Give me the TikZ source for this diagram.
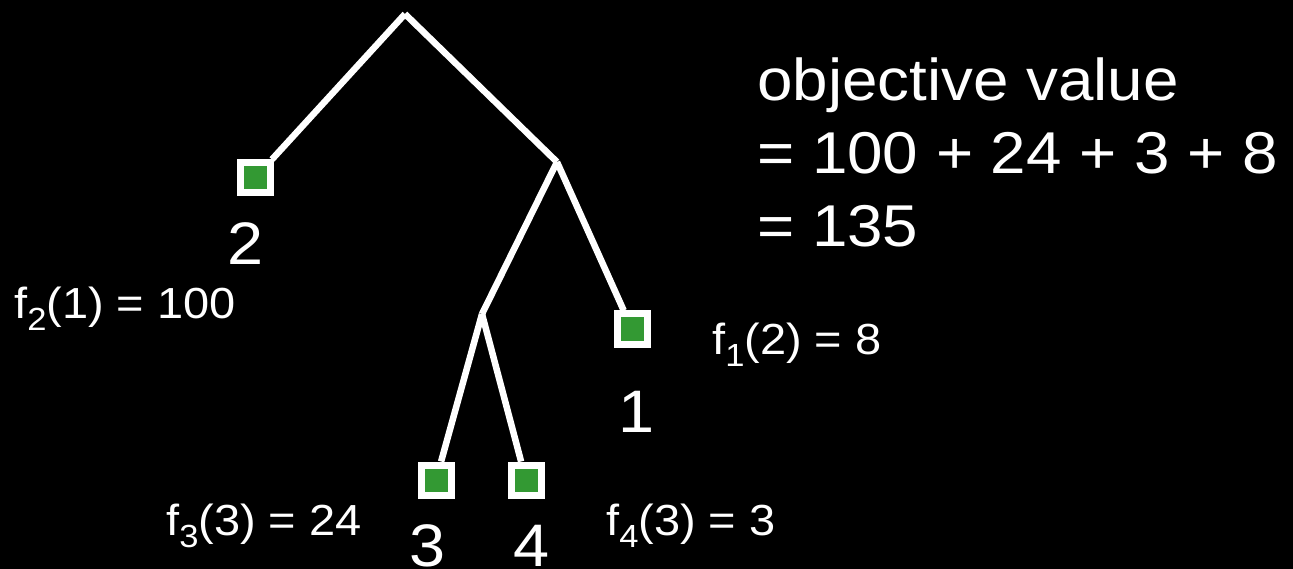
\documentclass[tikz,border=0pt]{standalone}
\usepackage{fontspec}
\setmainfont{Liberation Sans}[FakeStretch=1.08]
\usetikzlibrary{positioning}
\definecolor{leafgreen}{RGB}{51,153,51}
\newcommand{\lowidx}[1]{\raisebox{-12pt}{\fontsize{32}{32}\selectfont #1}}
\tikzset{
  leafbox/.style={draw=white, fill=leafgreen, line width=7pt, minimum size=30pt, inner sep=0pt},
  treeedge/.style={white, line width=6.5pt},
  numlabel/.style={white, anchor=base, inner sep=0pt, font=\fontsize{60}{72}\selectfont},
  costlabel/.style={white, anchor=base west, inner sep=0pt, font=\fontsize{43.5}{52}\selectfont},
  sumline/.style={white, anchor=base west, inner sep=0pt, font=\fontsize{59}{73}\selectfont},
}

\begin{document}
\begin{tikzpicture}[x=1pt, y=-1pt]
    \fill[black] (0,0) rectangle (1293,569);
    \useasboundingbox (0,0) rectangle (1293,569);
    % inner points of the tree
    \coordinate (root) at (405,14);
    \coordinate (mid) at (557,162);
    \coordinate (low) at (482,314);
    % leaves
    \node[leafbox] (leaf2) at (255,178) {};
    \node[leafbox] (leaf1) at (632,329) {};
    \node[leafbox] (leaf3) at (436,480) {};
    \node[leafbox] (leaf4) at (526,480) {};
    \draw[treeedge] (root) -- (leaf2);
    \draw[treeedge] (root) -- (mid);
    \draw[treeedge] (mid) -- (low);
    \draw[treeedge] (mid) -- (leaf1);
    \draw[treeedge] (low) -- (leaf3);
    \draw[treeedge] (low) -- (leaf4);
    % leaf numbers
    \node[numlabel] (num2) at (246,265) {2};
    \node[numlabel] (num1) at (637,432) {1};
    \node[numlabel] (num3) at (428,566) {3};
    \node[numlabel] (num4) at (532,566) {4};
    % costs
    \node[costlabel] (cost2) at (14,319) {f\lowidx{2}(1) = 100};
    \node[costlabel] (cost1) at (712,354) {f\lowidx{1}(2) = 8};
    \node[costlabel] (cost3) at (166,535) {f\lowidx{3}(3) = 24};
    \node[costlabel] (cost4) at (606,535) {f\lowidx{4}(3) = 3};
    % objective
    \node[sumline] (objline) at (757,101) {objective value};
    \node[sumline] (sumline1) at (757,174) {= 100 + 24 + 3 + 8};
    \node[sumline] (sumline2) at (757,247) {= 135};
\end{tikzpicture}
\end{document}
